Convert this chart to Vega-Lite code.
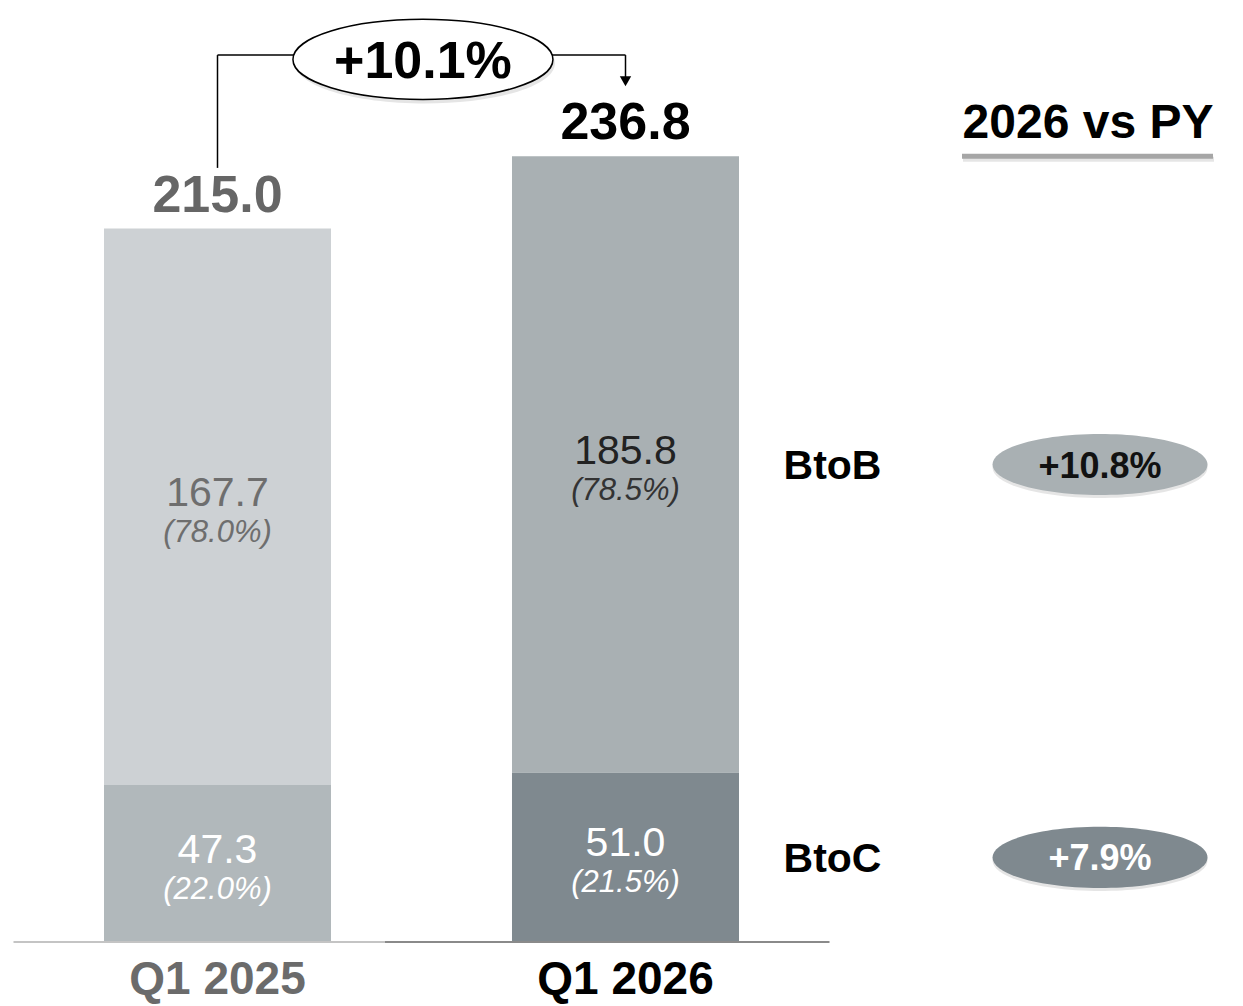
{
  "$schema": "https://vega.github.io/schema/vega-lite/v6.json",
  "width": 1243,
  "height": 942,
  "autosize": {"type": "none"},
  "padding": {"left": 0, "top": 0, "right": 0, "bottom": 64},
  "background": "white",
  "config": {
    "view": {"stroke": null},
    "font": "Liberation Sans",
    "text": {"font": "Liberation Sans"},
    "axisX": {"domain": false, "ticks": false, "grid": false, "labelAngle": 0, "labelPadding": 15, "labelLimit": 400, "labelFont": "Liberation Sans", "labelFontSize": 46, "labelFontWeight": "bold"}
  },
  "datasets": {
    "segments": [
      {"period": "Q1 2025", "segment": "BtoB", "value": 167.7, "share": "(78.0%)", "growth": ""},
      {"period": "Q1 2025", "segment": "BtoC", "value": 47.3, "share": "(22.0%)", "growth": ""},
      {"period": "Q1 2026", "segment": "BtoB", "value": 185.8, "share": "(78.5%)", "growth": "+10.8%"},
      {"period": "Q1 2026", "segment": "BtoC", "value": 51.0, "share": "(21.5%)", "growth": "+7.9%"}
    ],
    "change": [{"from": "Q1 2025", "to": "Q1 2026", "label": "+10.1%"}],
    "header": [{"title": "2026 vs PY", "level": 236.8}]
  },
  "resolve": {"scale": {"x": "independent"}},
  "layer": [
    {
      "layer": [
        {
          "data": {"name": "segments"},
          "transform": [
            {"stack": "value", "groupby": ["period"], "sort": [{"field": "segment", "order": "descending"}], "as": ["v0", "v1"]},
            {"calculate": "datum.period + ' ' + datum.segment", "as": "key"}
          ],
          "mark": {"type": "bar"},
          "encoding": {
            "x": {"field": "period", "type": "nominal", "scale": {"type": "band", "domain": ["Q1 2025", "Q1 2026"], "range": [13.5, 829.5], "paddingInner": 0.4436, "paddingOuter": 0.2218},
              "axis": {"title": null, "domain": false, "ticks": false, "grid": false, "labelAngle": 0, "labelPadding": 15, "labelLimit": 400, "labelFont": "Liberation Sans", "labelFontSize": 46, "labelFontWeight": "bold",
                "labelColor": {"condition": {"test": "datum.value === 'Q1 2026'", "value": "#000000"}, "value": "#6b6b6b"}}},
            "y": {"field": "v1", "type": "quantitative", "scale": {"domain": [0, 283.9], "nice": false, "zero": true}, "axis": null},
            "y2": {"field": "v0"},
            "color": {"field": "key", "type": "nominal", "legend": null,
              "scale": {"domain": ["Q1 2025 BtoB", "Q1 2025 BtoC", "Q1 2026 BtoB", "Q1 2026 BtoC"], "range": ["#cdd1d4", "#b1b8bb", "#a9b0b3", "#7f898f"]}}
          }
        },
        {
          "data": {"name": "segments"},
          "transform": [
            {"stack": "value", "groupby": ["period"], "sort": [{"field": "segment", "order": "descending"}], "as": ["v0", "v1"]},
            {"calculate": "(datum.v0 + datum.v1) / 2", "as": "mid"}
          ],
          "mark": {"type": "text", "fontSize": 41, "baseline": "alphabetic", "dy": -1},
          "encoding": {
            "x": {"field": "period", "type": "nominal"},
            "y": {"field": "mid", "type": "quantitative", "axis": null},
            "text": {"field": "value", "type": "quantitative", "format": ".1f"},
            "color": {"condition": [{"test": "datum.segment === 'BtoC'", "value": "#ffffff"}, {"test": "datum.period === 'Q1 2025'", "value": "#6e6e6e"}], "value": "#222222"}
          }
        },
        {
          "data": {"name": "segments"},
          "transform": [
            {"stack": "value", "groupby": ["period"], "sort": [{"field": "segment", "order": "descending"}], "as": ["v0", "v1"]},
            {"calculate": "(datum.v0 + datum.v1) / 2", "as": "mid"}
          ],
          "mark": {"type": "text", "fontSize": 31, "fontStyle": "italic", "baseline": "alphabetic", "dy": 35},
          "encoding": {
            "x": {"field": "period", "type": "nominal"},
            "y": {"field": "mid", "type": "quantitative", "axis": null},
            "text": {"field": "share", "type": "nominal"},
            "color": {"condition": [{"test": "datum.segment === 'BtoC'", "value": "#ffffff"}, {"test": "datum.period === 'Q1 2025'", "value": "#6e6e6e"}], "value": "#333333"}
          }
        },
        {
          "data": {"name": "segments"},
          "transform": [{"aggregate": [{"op": "sum", "field": "value", "as": "total"}], "groupby": ["period"]}],
          "mark": {"type": "text", "fontSize": 52, "fontWeight": "bold", "baseline": "alphabetic", "dy": -17},
          "encoding": {
            "x": {"field": "period", "type": "nominal"},
            "y": {"field": "total", "type": "quantitative", "axis": null},
            "text": {"field": "total", "type": "quantitative", "format": ".1f"},
            "color": {"condition": {"test": "datum.period === 'Q1 2026'", "value": "#000000"}, "value": "#666666"}
          }
        },
        {
          "data": {"name": "change"},
          "mark": {"type": "rule", "color": "#c4c4c4", "strokeWidth": 2, "xOffset": -204, "x2Offset": 167.5},
          "encoding": {
            "x": {"field": "from", "type": "nominal"},
            "x2": {"field": "from"},
            "y": {"datum": 0, "type": "quantitative", "axis": null}
          }
        },
        {
          "data": {"name": "change"},
          "mark": {"type": "rule", "color": "#8a8a8a", "strokeWidth": 2, "xOffset": -240.5, "x2Offset": 204},
          "encoding": {
            "x": {"field": "to", "type": "nominal"},
            "x2": {"field": "to"},
            "y": {"datum": 0, "type": "quantitative", "axis": null}
          }
        },
        {
          "data": {"name": "change"},
          "mark": {"type": "rule", "color": "#000000", "strokeWidth": 1.5},
          "encoding": {
            "x": {"field": "from", "type": "nominal"},
            "x2": {"field": "to"},
            "y": {"datum": 267.3, "type": "quantitative", "axis": null}
          }
        },
        {
          "data": {"name": "change"},
          "mark": {"type": "rule", "color": "#000000", "strokeWidth": 1.5},
          "encoding": {
            "x": {"field": "from", "type": "nominal"},
            "y": {"datum": 233.3, "type": "quantitative", "axis": null},
            "y2": {"datum": 267.3}
          }
        },
        {
          "data": {"name": "change"},
          "mark": {"type": "rule", "color": "#000000", "strokeWidth": 1.5},
          "encoding": {
            "x": {"field": "to", "type": "nominal"},
            "y": {"datum": 260, "type": "quantitative", "axis": null},
            "y2": {"datum": 267.3}
          }
        },
        {
          "data": {"name": "change"},
          "mark": {"type": "point", "shape": "triangle-down", "filled": true, "color": "#000000", "opacity": 1, "size": 130},
          "encoding": {
            "x": {"field": "to", "type": "nominal"},
            "y": {"datum": 259.4, "type": "quantitative", "axis": null}
          }
        },
        {
          "data": {"name": "change"},
          "mark": {"type": "point", "filled": true, "color": "#000000", "opacity": 0.1, "size": 67600, "xOffset": 2, "yOffset": 4,
            "shape": "M-1,0C-1,-0.1701,-0.5523,-0.308,0,-0.308C0.5523,-0.308,1,-0.1701,1,0C1,0.1701,0.5523,0.308,0,0.308C-0.5523,0.308,-1,0.1701,-1,0Z"},
          "encoding": {
            "x": {"field": "from", "type": "nominal", "bandPosition": 1.405},
            "y": {"datum": 266, "type": "quantitative", "axis": null}
          }
        },
        {
          "data": {"name": "change"},
          "mark": {"type": "point", "filled": true, "fill": "#ffffff", "stroke": "#000000", "strokeWidth": 1.5, "opacity": 1, "strokeOpacity": 1, "size": 67600,
            "shape": "M-1,0C-1,-0.1701,-0.5523,-0.308,0,-0.308C0.5523,-0.308,1,-0.1701,1,0C1,0.1701,0.5523,0.308,0,0.308C-0.5523,0.308,-1,0.1701,-1,0Z"},
          "encoding": {
            "x": {"field": "from", "type": "nominal", "bandPosition": 1.405},
            "y": {"datum": 266, "type": "quantitative", "axis": null}
          }
        },
        {
          "data": {"name": "change"},
          "mark": {"type": "text", "fontSize": 52, "fontWeight": "bold", "color": "#000000", "baseline": "alphabetic", "dy": 18.5},
          "encoding": {
            "x": {"field": "from", "type": "nominal", "bandPosition": 1.405},
            "y": {"datum": 266, "type": "quantitative", "axis": null},
            "text": {"field": "label", "type": "nominal"}
          }
        }
      ]
    },
    {
      "layer": [
        {
          "data": {"name": "header"},
          "mark": {"type": "text", "fontSize": 48, "fontWeight": "bold", "color": "#000000", "baseline": "alphabetic", "dy": -18, "dx": -12},
          "encoding": {
            "x": {"datum": "growth", "type": "nominal", "scale": {"type": "point", "domain": ["segment", "growth"], "range": [832.5, 1100], "padding": 0}, "axis": null},
            "y": {"field": "level", "type": "quantitative", "axis": null},
            "text": {"field": "title", "type": "nominal"}
          }
        },
        {
          "data": {"name": "header"},
          "mark": {"type": "rule", "color": "#000000", "opacity": 0.1, "strokeWidth": 5, "xOffset": -137, "x2Offset": 114, "yOffset": 3},
          "encoding": {
            "x": {"datum": "growth", "type": "nominal", "axis": null},
            "x2": {"datum": "growth"},
            "y": {"field": "level", "type": "quantitative", "axis": null}
          }
        },
        {
          "data": {"name": "header"},
          "mark": {"type": "rule", "color": "#a6a6a6", "strokeWidth": 5, "xOffset": -138, "x2Offset": 113},
          "encoding": {
            "x": {"datum": "growth", "type": "nominal", "axis": null},
            "x2": {"datum": "growth"},
            "y": {"field": "level", "type": "quantitative", "axis": null}
          }
        },
        {
          "data": {"name": "segments"},
          "transform": [
            {"stack": "value", "groupby": ["period"], "sort": [{"field": "segment", "order": "descending"}], "as": ["v0", "v1"]},
            {"calculate": "(datum.v0 + datum.v1) / 2", "as": "mid"},
            {"filter": "datum.period === 'Q1 2026'"}
          ],
          "mark": {"type": "text", "fontSize": 41, "fontWeight": "bold", "color": "#000000", "baseline": "alphabetic", "dy": 14.5},
          "encoding": {
            "x": {"datum": "segment", "type": "nominal", "axis": null},
            "y": {"field": "mid", "type": "quantitative", "axis": null},
            "text": {"field": "segment", "type": "nominal"}
          }
        },
        {
          "data": {"name": "segments"},
          "transform": [
            {"stack": "value", "groupby": ["period"], "sort": [{"field": "segment", "order": "descending"}], "as": ["v0", "v1"]},
            {"calculate": "(datum.v0 + datum.v1) / 2", "as": "mid"},
            {"filter": "datum.period === 'Q1 2026'"}
          ],
          "mark": {"type": "point", "filled": true, "color": "#000000", "opacity": 0.1, "size": 46225, "yOffset": 3,
            "shape": "M-1,0C-1,-0.1568,-0.5523,-0.284,0,-0.284C0.5523,-0.284,1,-0.1568,1,0C1,0.1568,0.5523,0.284,0,0.284C-0.5523,0.284,-1,0.1568,-1,0Z"},
          "encoding": {
            "x": {"datum": "growth", "type": "nominal", "axis": null},
            "y": {"field": "mid", "type": "quantitative", "axis": null}
          }
        },
        {
          "data": {"name": "segments"},
          "transform": [
            {"stack": "value", "groupby": ["period"], "sort": [{"field": "segment", "order": "descending"}], "as": ["v0", "v1"]},
            {"calculate": "(datum.v0 + datum.v1) / 2", "as": "mid"},
            {"filter": "datum.period === 'Q1 2026'"}
          ],
          "mark": {"type": "point", "filled": true, "opacity": 1, "size": 46225,
            "shape": "M-1,0C-1,-0.1568,-0.5523,-0.284,0,-0.284C0.5523,-0.284,1,-0.1568,1,0C1,0.1568,0.5523,0.284,0,0.284C-0.5523,0.284,-1,0.1568,-1,0Z"},
          "encoding": {
            "x": {"datum": "growth", "type": "nominal", "axis": null},
            "y": {"field": "mid", "type": "quantitative", "axis": null},
            "fill": {"condition": {"test": "datum.segment === 'BtoB'", "value": "#a9b0b3"}, "value": "#7f898f"}
          }
        },
        {
          "data": {"name": "segments"},
          "transform": [
            {"stack": "value", "groupby": ["period"], "sort": [{"field": "segment", "order": "descending"}], "as": ["v0", "v1"]},
            {"calculate": "(datum.v0 + datum.v1) / 2", "as": "mid"},
            {"filter": "datum.period === 'Q1 2026'"}
          ],
          "mark": {"type": "text", "fontSize": 36, "fontWeight": "bold", "baseline": "alphabetic", "dy": 13},
          "encoding": {
            "x": {"datum": "growth", "type": "nominal", "axis": null},
            "y": {"field": "mid", "type": "quantitative", "axis": null},
            "text": {"field": "growth", "type": "nominal"},
            "color": {"condition": {"test": "datum.segment === 'BtoB'", "value": "#111111"}, "value": "#ffffff"}
          }
        }
      ]
    }
  ]
}
